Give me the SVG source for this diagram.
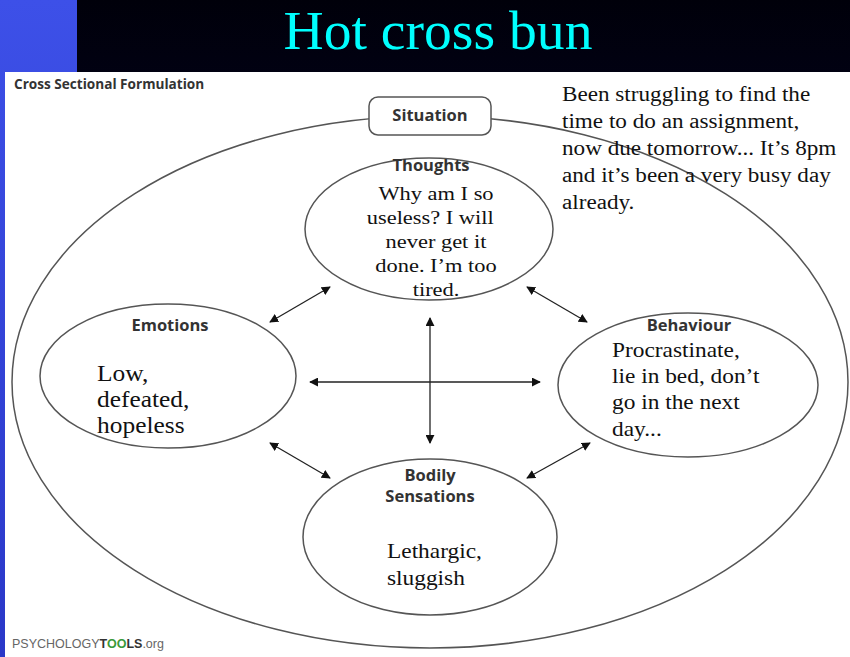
<svg xmlns="http://www.w3.org/2000/svg" width="850" height="657" viewBox="0 0 850 657">
<defs>
<linearGradient id="band" x1="0" y1="0" x2="0" y2="1"><stop offset="0" stop-color="#00000a"/><stop offset="1" stop-color="#0c0c50"/></linearGradient>
<linearGradient id="side" x1="0" y1="0" x2="0" y2="1"><stop offset="0" stop-color="#3d50e8"/><stop offset="1" stop-color="#2a38c8"/></linearGradient>
<marker id="ah" viewBox="0 0 10 10" refX="9" refY="5" markerWidth="9" markerHeight="9" orient="auto-start-reverse" markerUnits="userSpaceOnUse"><path d="M0,0 L10,5 L0,10 z" fill="#111"/></marker>
</defs>
<style>
.node{fill:#fff;stroke:#555;stroke-width:1.5}
.lbl{font-family:"Open Sans","DejaVu Sans",sans-serif;font-weight:bold;font-size:16.5px;fill:#333;text-anchor:middle}
.body{font-family:"Liberation Serif","Times New Roman",serif;font-size:20.5px;fill:#111}
.conn{stroke:#222;stroke-width:1.3;fill:none;marker-start:url(#ah);marker-end:url(#ah)}
</style>
<rect x="0" y="0" width="850" height="657" fill="url(#band)"/>
<rect x="0" y="0" width="77" height="657" fill="url(#side)"/>
<rect x="5" y="72" width="845" height="585" fill="#fff"/>
<text x="438" y="49" font-family="Liberation Serif,serif" font-size="54" fill="#00ffff" text-anchor="middle" transform="translate(438,49) scale(1.03,1) translate(-438,-49)">Hot cross bun</text>
<text x="14" y="89" font-family="Open Sans,DejaVu Sans,sans-serif" font-weight="bold" font-size="13.6" fill="#333">Cross Sectional Formulation</text>
<g id="outer"><ellipse cx="430" cy="382" rx="418" ry="266" fill="none" stroke="#555" stroke-width="1.5"/></g>
<g id="situation">
<rect x="369" y="97" width="122" height="38" rx="9" class="node"/>
<text x="430" y="121" class="lbl">Situation</text>
<text class="body" transform="translate(562,0) scale(1.13,1)"><tspan x="0" y="101">Been struggling to find the</tspan><tspan x="0" y="128">time to do an assignment,</tspan><tspan x="0" y="155">now due tomorrow... It’s 8pm</tspan><tspan x="0" y="182">and it’s been a very busy day</tspan><tspan x="0" y="209">already.</tspan></text>
</g>
<g id="connectors">
<line x1="330" y1="287" x2="270" y2="322" class="conn"/>
<line x1="527" y1="287" x2="587" y2="322" class="conn"/>
<line x1="270" y1="443" x2="330" y2="478" class="conn"/>
<line x1="590" y1="443" x2="527" y2="478" class="conn"/>
<line x1="310" y1="382" x2="540" y2="382" class="conn"/>
<line x1="430" y1="318" x2="430" y2="443" class="conn"/>
</g>
<g id="thoughts">
<ellipse cx="429" cy="229" rx="124" ry="71" class="node"/>
<text x="431" y="171" class="lbl">Thoughts</text>
<text class="body" text-anchor="middle" style="font-size:19.5px" transform="translate(436,0) scale(1.15,1)"><tspan x="0" y="200">Why am I so</tspan><tspan x="-5" y="224">useless? I will</tspan><tspan x="0" y="248">never get it</tspan><tspan x="0" y="272">done. I’m too</tspan><tspan x="0" y="296">tired.</tspan></text>
</g>
<g id="emotions">
<ellipse cx="168" cy="376" rx="128" ry="72" class="node"/>
<text x="170" y="331" class="lbl">Emotions</text>
<text class="body" style="font-size:22.5px" transform="translate(97,0) scale(1.13,1)"><tspan x="0" y="381">Low,</tspan><tspan x="0" y="407">defeated,</tspan><tspan x="0" y="433">hopeless</tspan></text>
</g>
<g id="behaviour">
<ellipse cx="688" cy="385" rx="130" ry="72" class="node"/>
<text x="689" y="331" class="lbl">Behaviour</text>
<text class="body" transform="translate(612,0) scale(1.14,1)"><tspan x="0" y="357">Procrastinate,</tspan><tspan x="0" y="383">lie in bed, don’t</tspan><tspan x="0" y="409">go in the next</tspan><tspan x="0" y="436">day...</tspan></text>
</g>
<g id="bodily">
<ellipse cx="430" cy="537" rx="127" ry="78" class="node"/>
<text x="430" y="481" class="lbl">Bodily</text>
<text x="430" y="502" class="lbl">Sensations</text>
<text class="body" transform="translate(387,0) scale(1.14,1)"><tspan x="0" y="558">Lethargic,</tspan><tspan x="0" y="585">sluggish</tspan></text>
</g>
<text x="12" y="648" font-family="Liberation Sans,sans-serif" font-size="12.5" fill="#666">PSYCHOLOGY<tspan font-weight="bold" fill="#333">T</tspan><tspan font-weight="bold" fill="#3a9a3a">OO</tspan><tspan font-weight="bold" fill="#333">LS</tspan>.org</text>
</svg>
